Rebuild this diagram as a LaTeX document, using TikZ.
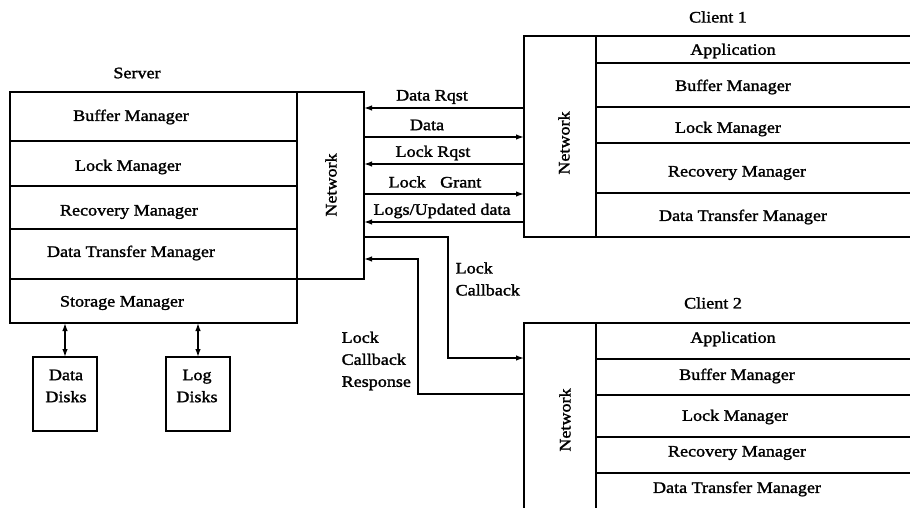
\documentclass[tikz,border=0pt]{standalone}
\usepackage{fontspec}
\setmainfont{Liberation Serif}[FakeStretch=1.13, FakeBold=1.6]
\usetikzlibrary{arrows.meta}
\begin{document}
\begin{tikzpicture}[x=1pt,y=-1pt,
  line width=1.3pt,
  box/.style={draw, inner sep=0pt, outer sep=0pt, anchor=north west},
  lbl/.style={font=\fontsize{16}{22}\selectfont, inner sep=0pt},
  arr/.style={-{Latex[length=8pt,width=5.5pt]}},
  darr/.style={{Latex[length=8pt,width=5.5pt]}-{Latex[length=8pt,width=5.5pt]}}]
\useasboundingbox (0,0) rectangle (910,507);

% ---------- Server ----------
\node[lbl] (tserver) at (137,73) {Server};
\node[box, minimum width=287pt, minimum height=49pt] (sbuf) at (10,92) {};
\node[box, minimum width=287pt, minimum height=45pt] (slock) at (10,141) {};
\node[box, minimum width=287pt, minimum height=43pt] (srec) at (10,186) {};
\node[box, minimum width=287pt, minimum height=50pt] (sdtm) at (10,229) {};
\node[box, minimum width=287pt, minimum height=44pt] (sstor) at (10,279) {};
\node[box, minimum width=67pt, minimum height=187pt] (snet) at (297,92) {};
\node[lbl] (tsbuf) at (131,117) {Buffer Manager};
\node[lbl] (tslock) at (128,167) {Lock Manager};
\node[lbl] (tsrec) at (129,212) {Recovery Manager};
\node[lbl] (tsdtm) at (131,253) {Data Transfer Manager};
\node[lbl] (tsstor) at (122,303) {Storage Manager};
\node[lbl, rotate=90] (tsnet) at (331,185) {Network};

% ---------- Disks ----------
\node[box, minimum width=64pt, minimum height=74pt] (ddisk) at (33,357) {};
\node[box, minimum width=64pt, minimum height=74pt] (ldisk) at (166,357) {};
\node[lbl, align=center] (tddisk) at (66,386) {Data\\Disks};
\node[lbl, align=center] (tldisk) at (197,386) {Log\\Disks};
\draw[darr] (sstor.south -| ddisk.north) -- (ddisk.north);
\draw[darr] (sstor.south -| ldisk.north) -- (ldisk.north);

% ---------- Client 1 ----------
\node[lbl] (tclient1) at (718,17) {Client 1};
\node[box, minimum width=72pt, minimum height=201pt] (cnet1) at (524,36) {};
\node[box, minimum width=316pt, minimum height=27pt] (c1app) at (596,36) {};
\node[box, minimum width=316pt, minimum height=44pt] (c1buf) at (596,63) {};
\node[box, minimum width=316pt, minimum height=36pt] (c1lock) at (596,107) {};
\node[box, minimum width=316pt, minimum height=50pt] (c1rec) at (596,143) {};
\node[box, minimum width=316pt, minimum height=44pt] (c1dtm) at (596,193) {};
\node[lbl, rotate=90] (tc1net) at (564,143) {Network};
\node[lbl] (tc1app) at (733,51) {Application};
\node[lbl] (tc1buf) at (733,87) {Buffer Manager};
\node[lbl] (tc1lock) at (728,129) {Lock Manager};
\node[lbl] (tc1rec) at (737,173) {Recovery Manager};
\node[lbl] (tc1dtm) at (743,217) {Data Transfer Manager};

% ---------- Client 2 ----------
\node[lbl] (tclient2) at (713,303) {Client 2};
\node[box, minimum width=72pt, minimum height=192pt] (cnet2) at (524,323) {};
\node[box, minimum width=316pt, minimum height=36pt] (c2app) at (596,323) {};
\node[box, minimum width=316pt, minimum height=36pt] (c2buf) at (596,359) {};
\node[box, minimum width=316pt, minimum height=42pt] (c2lock) at (596,395) {};
\node[box, minimum width=316pt, minimum height=36pt] (c2rec) at (596,437) {};
\node[box, minimum width=316pt, minimum height=42pt] (c2dtm) at (596,473) {};
\node[lbl, rotate=90] (tc2net) at (565,420) {Network};
\node[lbl] (tc2app) at (733,339) {Application};
\node[lbl] (tc2buf) at (737,376) {Buffer Manager};
\node[lbl] (tc2lock) at (735,417) {Lock Manager};
\node[lbl] (tc2rec) at (737,453) {Recovery Manager};
\node[lbl] (tc2dtm) at (737,489) {Data Transfer Manager};

% ---------- Messages server <-> client 1 ----------
\draw[arr] (cnet1.west |- 0,108) -- (snet.east |- 0,108);
\draw[arr] (snet.east |- 0,137) -- (cnet1.west |- 0,137);
\draw[arr] (cnet1.west |- 0,164) -- (snet.east |- 0,164);
\draw[arr] (snet.east |- 0,194) -- (cnet1.west |- 0,194);
\draw[arr] (cnet1.west |- 0,222) -- (snet.east |- 0,222);
\node[lbl] (ldrq) at (432,97) {Data Rqst};
\node[lbl] (ldata) at (427,125) {Data};
\node[lbl] (llrq) at (433,153) {Lock Rqst};
\node[lbl] (llg) at (435,182) {Lock\hspace{0.9em}Grant};
\node[lbl] (llogs) at (442,211) {Logs/Updated data};

% ---------- Callback server <-> client 2 ----------
\coordinate (cbx) at (448,0);
\coordinate (crx) at (418,0);
\draw[arr] (snet.east |- 0,237) -| (cbx |- 0,358) -- (cnet2.west |- 0,358);
\draw[arr] (cnet2.west |- 0,394) -| (crx |- 0,259) -- (snet.east |- 0,259);
\node[lbl, align=left, anchor=west] (llcb) at (455,279) {Lock\\Callback};
\node[lbl, align=left, anchor=west] (llcr) at (341,361) {Lock\\Callback\\Response};
\end{tikzpicture}
\end{document}
